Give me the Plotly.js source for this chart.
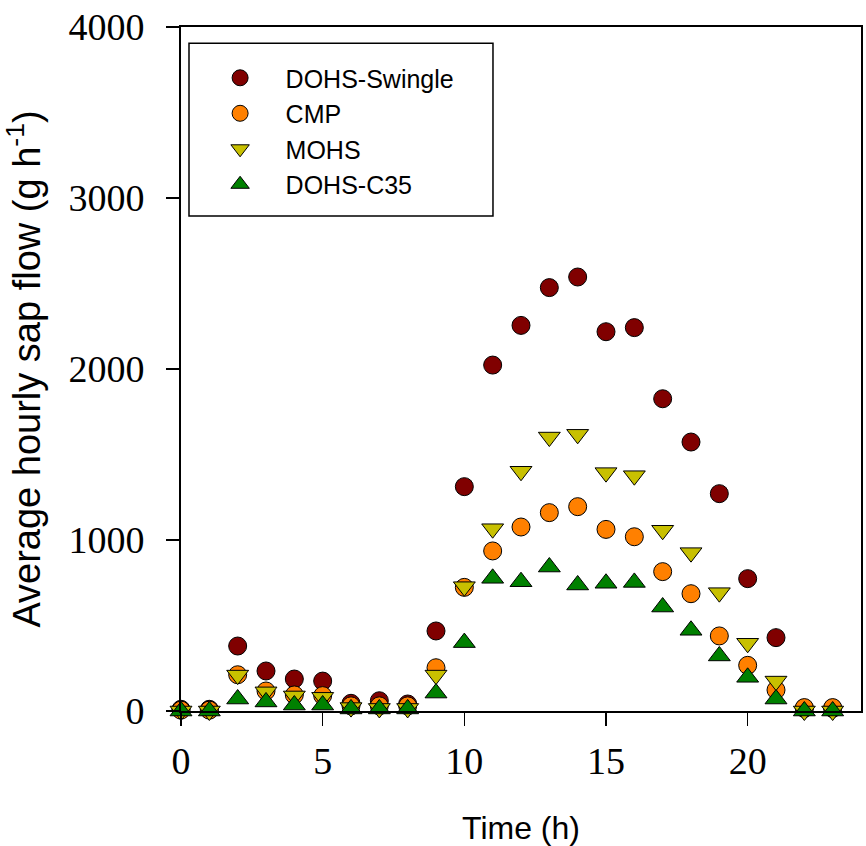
<!DOCTYPE html>
<html>
<head>
<meta charset="utf-8">
<script src="https://cdn.plot.ly/plotly-3.0.1.min.js"></script>
<style>html,body{margin:0;padding:0;background:#fff;}#chart{width:866px;height:846px;}</style>
</head>
<body>
<div id="chart"></div>
<script>
const hours = [0,1,2,3,4,5,6,7,8,9,10,11,12,13,14,15,16,17,18,19,20,21,22,23];
const dohsSwingle = [10,10,380,234,187,175,45,60,41,468,1312,2023,2255,2476,2538,2218,2242,1826,1573,1271,774,429,15,15];
const cmp = [5,5,212,117,94,90,30,30,30,253,723,936,1076,1160,1195,1062,1019,815,686,439,267,123,20,20];
const mohs = [0,0,210,112,88,80,20,15,15,210,727,1066,1402,1602,1618,1394,1376,1057,926,692,396,175,0,0];
const dohsC35 = [0,0,70,53,35,35,12,12,12,105,400,776,756,842,737,747,752,608,472,322,197,70,0,0];

const seriesNames = ['DOHS-Swingle','CMP','MOHS','DOHS-C35'];
const xTicks = [0,5,10,15,20];
const yTicks = [0,1000,2000,3000,4000];

const styles = [
  {color:'#800000', symbol:'circle', size:18},
  {color:'#FF8000', symbol:'circle', size:18},
  {color:'#C8C000', symbol:'triangle-down', size:19},
  {color:'#008000', symbol:'triangle-up', size:19}
];
const values = [dohsSwingle, cmp, mohs, dohsC35];

const traces = values.map((v,i)=>({
  type:'scatter', mode:'markers', x:hours, y:v, name:seriesNames[i],
  cliponaxis:false,
  marker:{color:styles[i].color, symbol:styles[i].symbol, size:styles[i].size,
          line:{color:'#000', width:1}}
}));

const axisCommon = {
  showgrid:false, zeroline:false, showline:true, linecolor:'#000', linewidth:2,
  mirror:true, ticks:'outside', ticklen:13, tickwidth:1.5, tickcolor:'#000',
  tickfont:{family:'Liberation Serif, Times New Roman, serif', size:38, color:'#000'}
};

const layout = {
  width:866, height:846,
  margin:{l:181, r:5, t:27, b:135},
  paper_bgcolor:'#fff', plot_bgcolor:'#fff',
  showlegend:true,
  legend:{x:0.02, y:0.959, xanchor:'left', yanchor:'top', bgcolor:'rgba(0,0,0,0)',
          borderwidth:0, itemwidth:81,
          font:{family:'Liberation Sans, Arial, sans-serif', size:25, color:'#000'}},
  xaxis:Object.assign({}, axisCommon, {
    range:[0,24], tickmode:'array', tickvals:xTicks, ticktext:xTicks.map(String),
    ticklabelstandoff:2,
    title:{text:'Time (h)', standoff:36, font:{family:'Liberation Sans, Arial, sans-serif', size:32, color:'#000'}}
  }),
  yaxis:Object.assign({}, axisCommon, {
    range:[0,4000], tickmode:'array', tickvals:yTicks, ticktext:yTicks.map(String),
    ticklabelstandoff:14,
    title:{text:'Average hourly sap flow (g h<sup>-1</sup>)', standoff:20, font:{family:'Liberation Sans, Arial, sans-serif', size:38, color:'#000'}}
  }),
  shapes:[{type:'rect', xref:'paper', yref:'paper', x0:0.01176, x1:0.4588, y0:0.7237, y1:0.9762,
           line:{color:'#000', width:1.5}, fillcolor:'rgba(0,0,0,0)'}]
};

Plotly.newPlot('chart', traces, layout, {displayModeBar:false, staticPlot:true});
</script>
</body>
</html>
